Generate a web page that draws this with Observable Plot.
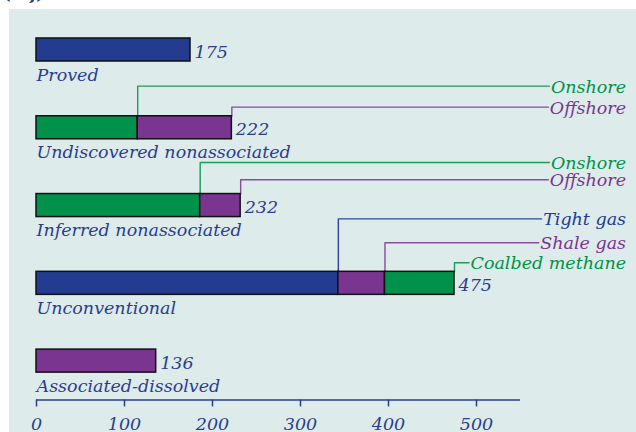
<!DOCTYPE html>
<html>
<head>
<meta charset="utf-8">
<script src="https://cdn.jsdelivr.net/npm/d3@7"></script>
<script src="https://cdn.jsdelivr.net/npm/@observablehq/plot@0.6"></script>
<style>
  html, body { margin: 0; padding: 0; background: #ffffff; width: 636px; height: 432px; overflow: hidden; }
  #wrap { position: relative; width: 636px; height: 432px; }
  #panel { position: absolute; left: 9px; top: 9px; width: 627px; height: 423px; background: #ddebeb; }
  #title { position: absolute; left: 4px; top: -17px; font: italic bold 17px "DejaVu Serif"; color: #2b3d8c; white-space: nowrap; }
  #chart { position: absolute; left: 0; top: 0; }
</style>
</head>
<body>
<div id="wrap">
  <div id="panel"></div>
  <div id="title">(tcf)</div>
  <div id="chart"></div>
</div>
<script>
// ---- data ----
const categories = ["Proved", "Undiscovered nonassociated", "Inferred nonassociated", "Unconventional", "Associated-dissolved"];
const totals = [175, 222, 232, 475, 136];

const segCategory = ["Proved", "Undiscovered nonassociated", "Undiscovered nonassociated", "Inferred nonassociated", "Inferred nonassociated", "Unconventional", "Unconventional", "Unconventional", "Associated-dissolved"];
const segName = ["Proved", "Onshore", "Offshore", "Onshore", "Offshore", "Tight gas", "Shale gas", "Coalbed methane", "Associated-dissolved"];
const segValue = [175, 115, 107, 186, 46, 343, 53, 79, 136];
const segColorKey = ["blue", "green", "purple", "green", "purple", "blue", "purple", "green", "purple"];
const leaderLevel = [null, -0.535, -0.265, -0.554, -0.332, -0.829, -0.521, -0.264, null];

const xTicks = [0, 100, 200, 300, 400, 500];

// ---- styling ----
const colors = {blue: "#233c8f", green: "#00924a", purple: "#7a3590"};
const lineColors = {blue: "#2a45a0", green: "#17a05a", purple: "#8b4aa3"};
const textBlue = "#2b3d8c";
const font = "DejaVu Serif";
const fs = 17.5;
const barHalf = 0.148;
const labelX = 670;
const axisEnd = 550;
const xDomain = [0, 550];
const width = 636, marginLeft = 36, marginRight = 116;

// measure label widths so leader lines stop right where the label text begins
const ctx = document.createElement("canvas").getContext("2d");
ctx.font = `italic ${fs}px "${font}"`;
const unitsPerPx = (xDomain[1] - xDomain[0]) / (width - marginLeft - marginRight);

// ---- derived tables ----
const rowOf = new Map(categories.map((c, i) => [c, i]));
const segs = [];
const cum = new Map();
segValue.forEach((v, i) => {
  const c = segCategory[i];
  const start = cum.get(c) || 0;
  cum.set(c, start + v);
  segs.push({cat: c, name: segName[i], x1: start, x2: start + v, row: rowOf.get(c), key: segColorKey[i], level: leaderLevel[i]});
});
const leaders = segs.filter(d => d.level != null);
const leaderPts = leaders.flatMap((d, k) => {
  const end = labelX - (ctx.measureText(d.name).width + 1.5) * unitsPerPx;
  return [
    {k, x: d.x2, y: d.row - barHalf, key: d.key},
    {k, x: d.x2, y: d.row + d.level, key: d.key},
    {k, x: end, y: d.row + d.level, key: d.key}
  ];
});
const catRows = categories.map((c, i) => ({cat: c, row: i, total: totals[i]}));

const chart = Plot.plot({
  width,
  height: 432,
  marginLeft,
  marginRight,
  marginTop: 49.5,
  marginBottom: 32.5,
  style: {background: "transparent", fontFamily: font, overflow: "visible"},
  x: {domain: xDomain, axis: null},
  y: {domain: [0, 4.5], reverse: true, axis: null},
  marks: [
    // leader lines
    Plot.line(leaderPts, {x: "x", y: "y", z: "k", stroke: d => lineColors[d.key], strokeWidth: 1.4, curve: "linear"}),
    // bars
    Plot.rect(segs, {x1: "x1", x2: "x2", y1: d => d.row - barHalf, y2: d => d.row + barHalf, fill: d => colors[d.key], stroke: "#111111", strokeWidth: 1.5}),
    // leader labels
    Plot.text(leaders, {x: labelX, y: d => d.row + d.level, text: "name", textAnchor: "end", fill: d => colors[d.key], fontSize: fs, fontStyle: "italic", dy: 1}),
    // totals
    Plot.text(catRows, {x: "total", y: "row", text: d => String(d.total), textAnchor: "start", dx: 4, dy: 2, fill: textBlue, fontSize: fs, fontStyle: "italic"}),
    // category names
    Plot.text(catRows, {x: 0, y: "row", text: "cat", textAnchor: "start", dy: 25, fill: textBlue, fontSize: fs, fontStyle: "italic"}),
    // axis line
    Plot.ruleY([4.5], {x1: 0, x2: axisEnd, stroke: textBlue, strokeWidth: 1.5}),
    Plot.axisX(xTicks, {y: 4.5, anchor: "bottom", tickSize: 7, tickPadding: 11, stroke: textBlue, strokeWidth: 1.5, fill: textBlue, fontSize: fs, fontStyle: "italic", tickFormat: d => String(d)})
  ]
});
document.getElementById("chart").appendChild(chart);
</script>
</body>
</html>
